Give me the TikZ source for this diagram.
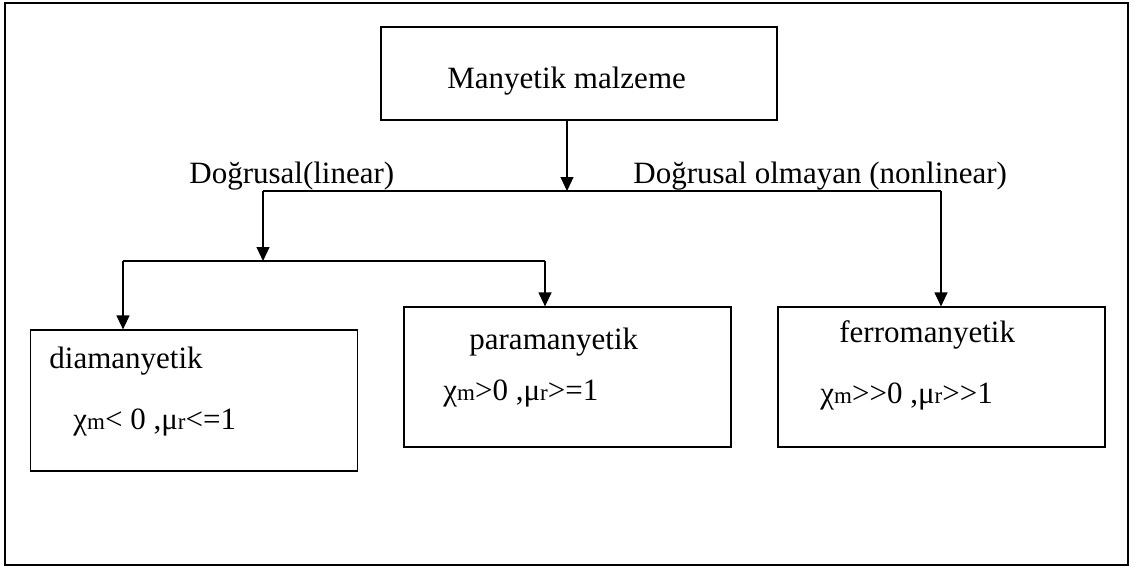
\documentclass[tikz,border=0pt]{standalone}
\usepackage{fontspec}
\setmainfont{Liberation Serif}
\usetikzlibrary{arrows.meta,positioning}
\newcommand{\lowidx}[1]{{\fontsize{11.5}{12}\selectfont #1}}

\begin{document}
\begin{tikzpicture}[
        x=0.5pt, y=-0.5pt,
        >={Triangle[length=7pt,width=6.5pt]},
        every node/.style={font=\fontsize{15.5}{18}\selectfont},
        box/.style={rectangle, draw, line width=0.6pt, minimum width=163.5pt, minimum height=70pt, inner sep=0pt},
        txt/.style={anchor=base west, inner sep=0pt}
    ]
    \useasboundingbox (0,0) rectangle (1134,567);
    \draw[line width=1.2pt] (5,3) rectangle (1128,565);

    \node[box, minimum width=198pt, minimum height=46.5pt] (mat) at (579,73.5) {};
    \node[box, minimum height=70.5pt] (dia) at (194,400.5) {};
    \node[box] (para) at (567.5,377) {};
    \node[box] (ferro) at (941.5,377) {};

    \node[txt] (matlbl) at (447,89) {Manyetik malzeme};
    \node[txt] (lin) at (189,183) {Doğrusal(linear)};
    \node[txt] (nonlin) at (633,183) {Doğrusal olmayan (nonlinear)};
    \node[txt] (dianame) at (49,368) {diamanyetik};
    \node[txt] (diaval) at (73,429) {χ\lowidx{m}< 0 ,μ\lowidx{r}<=1};
    \node[txt] (paraname) at (469,349) {paramanyetik};
    \node[txt] (paraval) at (443,400) {χ\lowidx{m}>0 ,μ\lowidx{r}>=1};
    \node[txt] (ferroname) at (839,342) {ferromanyetik};
    \node[txt] (ferroval) at (820,403) {χ\lowidx{m}>{}>0 ,μ\lowidx{r}>{}>1};

    \coordinate (hub) at (567,191);
    \coordinate (linL) at (263,191);
    \coordinate (nonL) at (941,191);
    \coordinate (subhub) at (263,261);
    \coordinate (diaL) at (123,261);
    \coordinate (paraL) at (545,261);

    \path[draw, line width=0.6pt]
        (mat.south -| hub) edge[->] (hub)
        (nonL) edge (linL)
        (linL) edge[->] (subhub)
        (nonL) edge[->] (nonL |- ferro.north)
        (diaL) edge (paraL)
        (diaL) edge[->] (diaL |- dia.north)
        (paraL) edge[->] (paraL |- para.north);
\end{tikzpicture}
\end{document}
